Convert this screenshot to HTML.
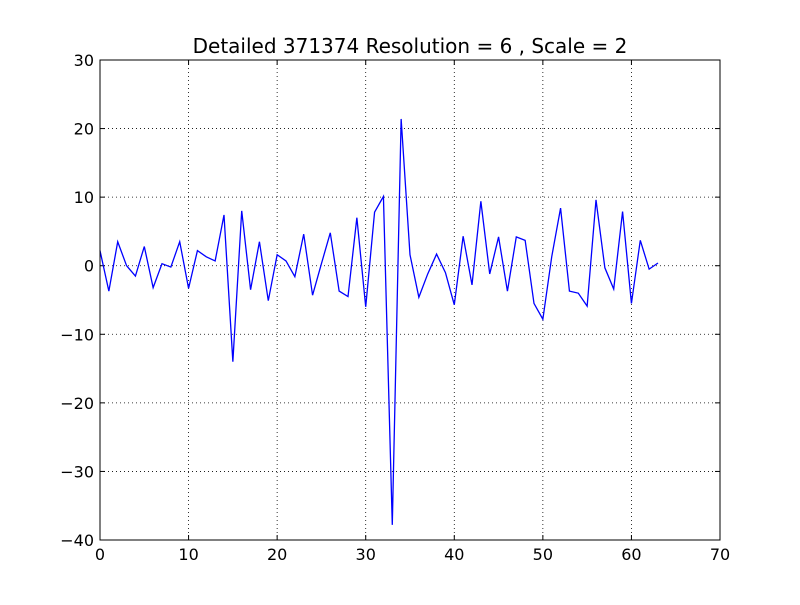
<!DOCTYPE html>
<html><head><meta charset="utf-8"><style>
body{margin:0;background:#fff;width:800px;height:600px;overflow:hidden}
svg{font-family:"DejaVu Sans","Liberation Sans",sans-serif}
</style></head><body>
<svg id="chart" width="800" height="600">
<rect width="800" height="600" fill="#fff"/>
<text x="410" y="53" text-anchor="middle" font-size="20">Detailed 371374 Resolution = 6 , Scale = 2</text>
<g id="grid"></g><g id="ticks"></g>
<path id="line" fill="none" stroke="#0000ff" stroke-width="1.3"/>
<rect x="100" y="60" width="620" height="480" fill="none" stroke="#000" stroke-width="1"/>
</svg>
<script>
const values=[2.2,-3.7,3.5,0,-1.5,2.8,-3.2,0.3,-0.2,3.5,-3.3,2.2,1.3,0.7,7.4,-14,8,-3.5,3.5,-5.1,1.6,0.7,-1.6,4.6,-4.3,0.3,4.8,-3.7,-4.5,7,-6,7.8,10.1,-37.8,21.4,1.6,-4.6,-1.2,1.7,-1,-5.7,4.3,-2.8,9.4,-1.2,4.2,-3.7,4.2,3.7,-5.5,-7.8,1.3,8.4,-3.7,-4,-5.9,9.6,-0.3,-3.4,7.9,-5.5,3.7,-0.5,0.4];
const xTicks=[0,10,20,30,40,50,60,70];
const yTicks=[30,20,10,0,-10,-20,-30,-40];
const X=v=>100+v*620/70, Y=v=>60+(30-v)*480/70;
const ns="http://www.w3.org/2000/svg";
const grid=document.getElementById('grid'),ticks=document.getElementById('ticks');
function mk(t,a,p){const e=document.createElementNS(ns,t);for(const k in a)e.setAttribute(k,a[k]);p.appendChild(e);return e;}
xTicks.forEach(v=>{
 const g=mk('line',{x1:X(v),x2:X(v),y1:60,y2:540,stroke:'#000','stroke-dasharray':'1,3','stroke-width':0.8},grid);
 
 
 mk('line',{x1:X(v),x2:X(v),y1:540,y2:535,stroke:'#000'},ticks);
 mk('line',{x1:X(v),x2:X(v),y1:60,y2:65,stroke:'#000'},ticks);
 const t=mk('text',{x:X(v),y:560,'text-anchor':'middle','font-size':16},ticks);t.textContent=v;
 
 
});
yTicks.forEach(v=>{
 const g=mk('line',{x1:100,x2:720,y1:Y(v),y2:Y(v),stroke:'#000','stroke-dasharray':'1,3','stroke-width':0.8},grid);
 
 
 mk('line',{x1:100,x2:105,y1:Y(v),y2:Y(v),stroke:'#000'},ticks);
 mk('line',{x1:715,x2:720,y1:Y(v),y2:Y(v),stroke:'#000'},ticks);
 const t=mk('text',{x:94,y:Y(v)+6,'text-anchor':'end','font-size':16},ticks);t.textContent=v<0?'\u2212'+(-v):v;
 
 
});
document.getElementById('line').setAttribute('d',values.map((v,i)=>(i?'L':'M')+X(i)+','+Y(v)).join(''));
</script>
</body></html>
